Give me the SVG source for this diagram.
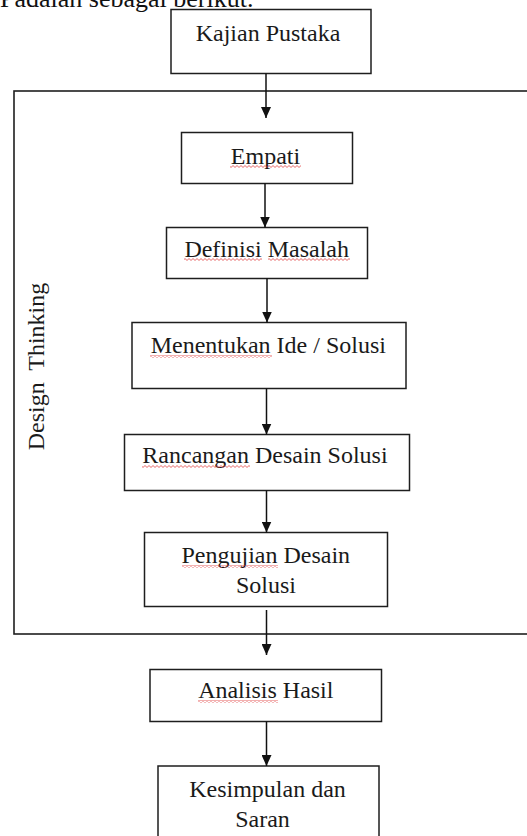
<svg xmlns="http://www.w3.org/2000/svg" width="527" height="836" viewBox="0 0 527 836">
  <style>
    .box { fill: #ffffff; stroke: #1e1e1e; stroke-width: 1.5; }
    .frame { fill: none; stroke: #1e1e1e; stroke-width: 1.6; }
    .lbl { font-family: "Liberation Serif", "Times New Roman", serif; font-size: 24px; fill: #1a1a1a; text-anchor: middle; }
    .edge { fill: none; stroke: #111111; stroke-width: 1.5; marker-end: url(#arrow); }
    .wave { fill: url(#squiggle); }
  </style>
  <defs>
    <marker id="arrow" markerUnits="userSpaceOnUse" markerWidth="11" markerHeight="10" refX="11" refY="5" orient="auto">
      <path d="M0,0 L11,5 L0,10 Z" fill="#111111"/>
    </marker>
    <pattern id="squiggle" patternUnits="userSpaceOnUse" width="4" height="3">
      <path d="M-1,2.5 L1,0.5 L3,2.5 L5,0.5" fill="none" stroke="#e03a3a" stroke-width="0.8"/>
    </pattern>
  </defs>

  <rect width="527" height="836" fill="#ffffff"/>

  <text x="0" y="7" font-family="Liberation Serif, Times New Roman, serif" font-size="26" fill="#111111">Padalah sebagai berikut.</text>

  <g id="design-thinking">
    <rect class="frame" x="14" y="91" width="530" height="543"/>
    <text class="lbl" font-size="22" word-spacing="6" transform="translate(44,366.5) rotate(-90)">Design Thinking</text>
  </g>

  <g id="kajian-pustaka">
    <rect class="box" x="171" y="9.5" width="200" height="64"/>
    <text class="lbl" x="268" y="40.5">Kajian Pustaka</text>
  </g>

  <g id="empati">
    <rect class="box" x="181.5" y="132.5" width="171" height="51"/>
    <text class="lbl" x="265.5" y="163.5">Empati</text>
    <rect class="wave" x="230" y="165" width="71" height="3"/>
  </g>

  <g id="definisi-masalah">
    <rect class="box" x="166.5" y="227.5" width="201" height="51"/>
    <text class="lbl" x="266.7" y="256.5">Definisi Masalah</text>
    <rect class="wave" x="184" y="258" width="78" height="3"/>
    <rect class="wave" x="268" y="258" width="82" height="3"/>
  </g>

  <g id="menentukan-ide">
    <rect class="box" x="132" y="322.5" width="274" height="66"/>
    <text class="lbl" x="268.3" y="353.3">Menentukan Ide / Solusi</text>
    <rect class="wave" x="150" y="355" width="122" height="3"/>
  </g>

  <g id="rancangan-desain">
    <rect class="box" x="124.5" y="434.5" width="285" height="56"/>
    <text class="lbl" x="265" y="463.3">Rancangan Desain Solusi</text>
    <rect class="wave" x="142" y="465" width="108" height="3"/>
  </g>

  <g id="pengujian-desain">
    <rect class="box" x="144.5" y="532.5" width="243" height="74"/>
    <text class="lbl" x="265.8" y="563.3">Pengujian Desain</text>
    <text class="lbl" x="266" y="593.3">Solusi</text>
    <rect class="wave" x="182" y="565" width="96" height="3"/>
  </g>

  <g id="analisis-hasil">
    <rect class="box" x="150" y="669.5" width="231.5" height="52"/>
    <text class="lbl" x="265.8" y="698.3">Analisis Hasil</text>
    <rect class="wave" x="198" y="700" width="80" height="3"/>
  </g>

  <g id="kesimpulan-saran">
    <rect class="box" x="158" y="766" width="221" height="80"/>
    <text class="lbl" x="267.5" y="796.7">Kesimpulan dan</text>
    <text class="lbl" x="262.5" y="826.7">Saran</text>
  </g>

  <g id="connectors">
    <path class="edge" d="M266,73.5 V118"/>
    <path class="edge" d="M265,183.5 V227.5"/>
    <path class="edge" d="M267,278.5 V322.5"/>
    <path class="edge" d="M266.5,388.5 V434.5"/>
    <path class="edge" d="M266.5,490.5 V532.5"/>
    <path class="edge" d="M266.5,610 V655"/>
    <path class="edge" d="M266.5,721.5 V766"/>
  </g>
</svg>
